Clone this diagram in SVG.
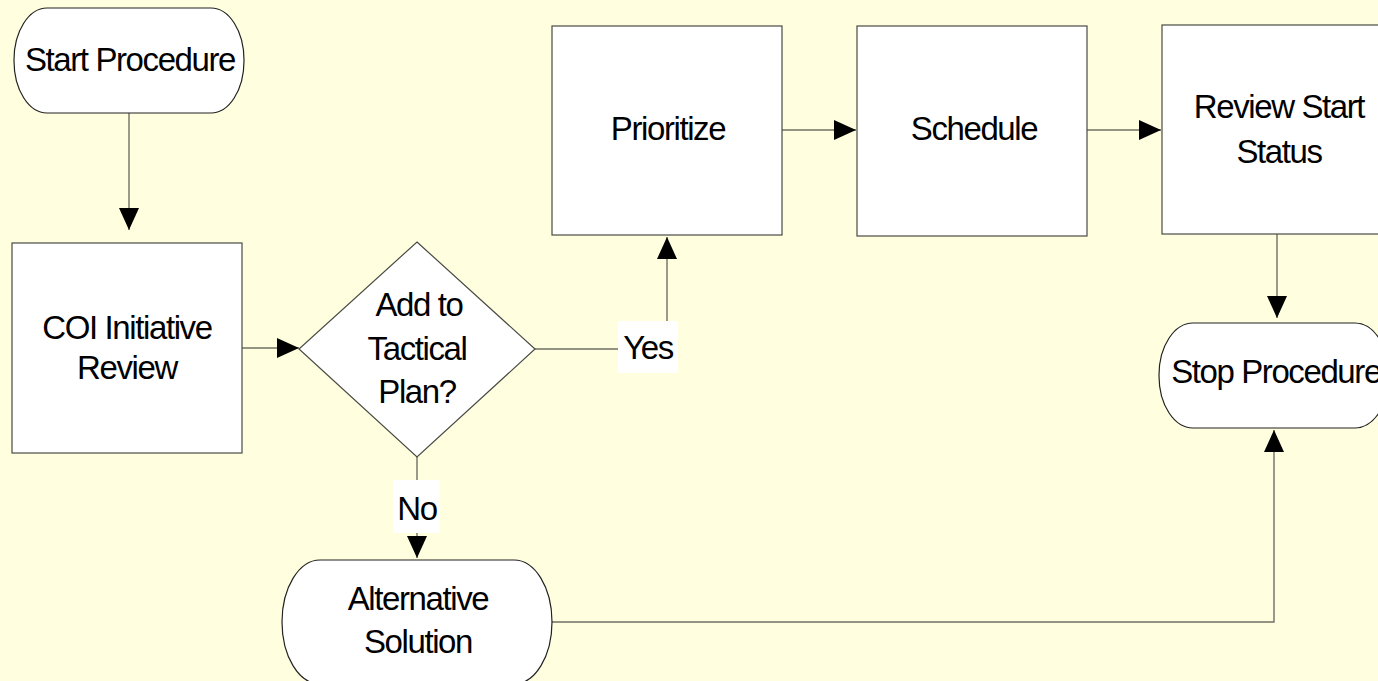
<svg xmlns="http://www.w3.org/2000/svg" width="1378" height="681" viewBox="0 0 1378 681">
  <defs>
    <marker id="arrow" markerWidth="22" markerHeight="22" refX="22" refY="11" orient="auto" markerUnits="userSpaceOnUse">
      <path d="M0,1 L22,11 L0,21 Z" fill="#000"/>
    </marker>
    <style>
      .shape { fill: #ffffff; stroke: #4a4a44; stroke-width: 1.2; }
      .term { fill: #ffffff; stroke: #222; stroke-width: 1.2; }
      .label { font-family: "Liberation Sans", Arial, sans-serif; font-size: 33px; letter-spacing: -1.4px; fill: #000; text-anchor: middle; }
      .conn { fill: none; stroke: #707064; stroke-width: 1.4; }
      .tag { fill: #ffffff; stroke: none; }
    </style>
  </defs>

  <rect x="0" y="0" width="1378" height="681" fill="#ffffe0"/>

  <!-- connectors -->
  <g id="connectors">
    <path class="conn" d="M129,113 L129,230" marker-end="url(#arrow)"/>
    <path class="conn" d="M242,348 L299,348" marker-end="url(#arrow)"/>
    <path class="conn" d="M535,349 L667,349 L667,237" marker-end="url(#arrow)"/>
    <path class="conn" d="M782,130 L856,130" marker-end="url(#arrow)"/>
    <path class="conn" d="M1087,130 L1161,130" marker-end="url(#arrow)"/>
    <path class="conn" d="M1277,234 L1277,318" marker-end="url(#arrow)"/>
    <path class="conn" d="M417,457 L417,558" marker-end="url(#arrow)"/>
    <path class="conn" d="M552,622 L1274,622 L1274,430" marker-end="url(#arrow)"/>
    <!-- branch tags -->
    <g id="tag-yes">
      <rect class="tag" x="618" y="321" width="60" height="52"/>
      <text class="label" x="648" y="359">Yes</text>
    </g>
    <g id="tag-no">
      <rect class="tag" x="393" y="480" width="47" height="53"/>
      <text class="label" x="417" y="520">No</text>
    </g>
  </g>

  <g id="start">
    <rect class="term" x="14" y="8" width="230" height="105" rx="33" ry="52"/>
    <text class="label" x="130" y="71">Start Procedure</text>
  </g>

  <g id="coi-review">
    <rect class="shape" x="12" y="243" width="230" height="210"/>
    <text class="label" x="127" y="339">COI Initiative</text>
    <text class="label" x="127" y="379">Review</text>
  </g>

  <g id="decision">
    <polygon class="shape" points="417,242 535,349 417,457 299,349"/>
    <text class="label" x="419" y="316">Add  to</text>
    <text class="label" x="417" y="360">Tactical</text>
    <text class="label" x="417" y="403">Plan?</text>
  </g>

  <g id="prioritize">
    <rect class="shape" x="552" y="26" width="230" height="209"/>
    <text class="label" x="668" y="140">Prioritize</text>
  </g>

  <g id="schedule">
    <rect class="shape" x="857" y="26" width="230" height="210"/>
    <text class="label" x="974" y="140">Schedule</text>
  </g>

  <g id="review-status">
    <rect class="shape" x="1162" y="25" width="230" height="209"/>
    <text class="label" x="1279" y="118">Review Start</text>
    <text class="label" x="1279" y="163">Status</text>
  </g>

  <g id="stop">
    <rect class="term" x="1159" y="323" width="230" height="105" rx="34" ry="52"/>
    <text class="label" x="1276" y="383">Stop Procedure</text>
  </g>

  <g id="alternative">
    <rect class="term" x="282" y="560" width="270" height="124" rx="38" ry="62"/>
    <text class="label" x="418" y="610">Alternative</text>
    <text class="label" x="418" y="653">Solution</text>
  </g>
</svg>
